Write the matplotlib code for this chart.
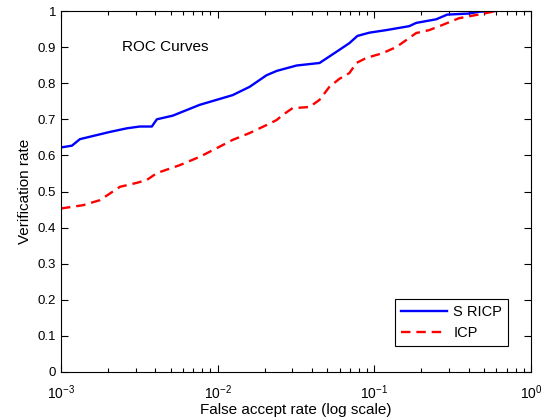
import matplotlib
matplotlib.use("Agg")
import matplotlib.pyplot as plt
from matplotlib.ticker import LogLocator, FixedLocator

plt.rcParams['font.family'] = ['Liberation Sans', 'DejaVu Sans']
plt.rcParams['mathtext.fontset'] = 'custom'
plt.rcParams['mathtext.rm'] = 'Liberation Sans'

# SRICP curve (false accept rate, verification rate)
sricp_far = [0.001, 0.001175, 0.00132, 0.00205, 0.00263, 0.00318, 0.0038, 0.00409,
             0.00516, 0.00767, 0.01247, 0.016, 0.0205, 0.0238, 0.0319, 0.0447,
             0.0573, 0.0693, 0.078, 0.093, 0.119, 0.167, 0.185, 0.248, 0.292,
             0.403, 0.467, 0.598]
sricp_vr = [0.622, 0.627, 0.645, 0.665, 0.675, 0.68, 0.68, 0.70,
            0.71, 0.74, 0.767, 0.79, 0.822, 0.834, 0.849, 0.856,
            0.887, 0.911, 0.931, 0.94, 0.947, 0.958, 0.967, 0.977, 0.99,
            0.993, 0.998, 1.0]

# ICP curve
icp_far = [0.001, 0.00138, 0.00177, 0.00238, 0.00305, 0.00353, 0.00409, 0.00573,
           0.00767, 0.00986, 0.01247, 0.016, 0.0205, 0.0238, 0.026, 0.0301,
           0.0386, 0.0447, 0.0517, 0.0598, 0.0693, 0.0768, 0.0889, 0.1125,
           0.138, 0.185, 0.224, 0.271, 0.347, 0.447, 0.556, 0.598]
icp_vr = [0.453, 0.462, 0.476, 0.513, 0.524, 0.532, 0.551, 0.573,
          0.596, 0.62, 0.643, 0.662, 0.684, 0.698, 0.712, 0.731,
          0.734, 0.754, 0.79, 0.812, 0.828, 0.856, 0.87, 0.883,
          0.90, 0.939, 0.947, 0.961, 0.98, 0.989, 0.997, 1.0]

fig = plt.figure(figsize=(5.45, 4.18), dpi=100)
ax = fig.add_axes([61 / 545, 46 / 418, 470 / 545, 361 / 418])

ax.plot(sricp_far, sricp_vr, color='#0000ff', lw=1.7, label='S RICP')
ax.plot(icp_far, icp_vr, color='#ff0000', lw=1.7, ls=(0, (4, 2.5)), label='ICP')

ax.set_xscale('log')
ax.set_xlim(1e-3, 1)
ax.set_ylim(0, 1)
ax.yaxis.set_major_locator(FixedLocator([i / 10 for i in range(11)]))
ax.set_yticklabels(['0'] + ['0.%d' % i for i in range(1, 10)] + ['1'])
ax.xaxis.set_minor_locator(LogLocator(base=10, subs=range(2, 10)))

ax.tick_params(which='both', direction='in', top=True, right=True,
               labelsize=9.5, width=0.8)
ax.tick_params(which='major', length=5)
ax.tick_params(which='minor', length=3)
ax.tick_params(axis='x', which='major', pad=8, labelsize=10)
for s in ax.spines.values():
    s.set_linewidth(0.8)

ax.set_xlabel('False accept rate (log scale)', fontsize=11, labelpad=1)
ax.set_ylabel('Verification rate', fontsize=11, labelpad=4)
ax.text(0.13, 0.9, 'ROC Curves', transform=ax.transAxes, fontsize=11, va='center')

leg = ax.legend(loc='lower right', bbox_to_anchor=(0.951, 0.072), fontsize=10.5,
                fancybox=False, framealpha=1, edgecolor='black',
                handlelength=3.2, handletextpad=0.4, borderaxespad=0)
leg.get_frame().set_linewidth(0.8)

fig.savefig('out.png', dpi=100)
